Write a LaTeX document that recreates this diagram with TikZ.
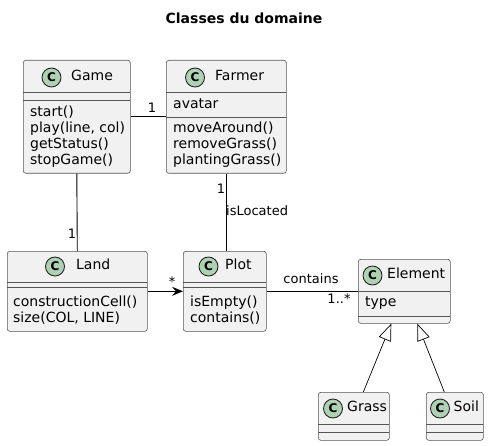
\documentclass[tikz,border=0pt]{standalone}
\usepackage{fontspec}
\setmainfont{DejaVu Sans}
\usetikzlibrary{arrows.meta,calc}
\definecolor{boxfill}{HTML}{F1F1F1}
\definecolor{boxline}{HTML}{181818}
\definecolor{divline}{HTML}{555555}
\definecolor{circfill}{HTML}{ADD1B2}
\tikzset{
  classbox/.style={draw=divline, fill=boxfill, line width=0.6pt, rounded corners=2.5pt, inner sep=0pt, anchor=north west},
  divider/.style={draw=divline, line width=0.5pt},
  cicon/.style={circle, draw=boxline, fill=circfill, line width=0.8pt, minimum size=19pt, inner sep=0pt, font=\fontsize{12}{12}\selectfont\bfseries},
  cname/.style={anchor=west, inner sep=0pt, font=\fontsize{14}{14}\selectfont, text height=10pt, text depth=3pt},
  member/.style={anchor=west, inner sep=0pt, font=\fontsize{14}{14}\selectfont, text height=10pt, text depth=3pt},
  lbl/.style={inner sep=0pt, font=\fontsize{13}{13}\selectfont, text height=9.5pt, text depth=3pt},
  link/.style={draw=black, line width=0.9pt},
}
\begin{document}
\begin{tikzpicture}[x=1pt,y=-1pt]
\useasboundingbox (0,0) rectangle (489,446);
\node[font=\fontsize{14}{14}\selectfont\bfseries] (title) at (244,18) {Classes du domaine};

% Game
\node[classbox, minimum width=107pt, minimum height=113pt] (game) at (23,60) {};
\draw[divider] (23,92) -- (130,92) (23,100) -- (130,100);
\node[cicon] (gamec) at (51.5,77.5) {C};
\node[cname] (gamen) at (71,77) {Game};
\node[member] (g1) at (30,113) {start()};
\node[member] (g2) at (30,129) {play(line, col)};
\node[member] (g3) at (30,145) {getStatus()};
\node[member] (g4) at (30,161) {stopGame()};

% Farmer
\node[classbox, minimum width=120pt, minimum height=113pt] (farmer) at (166,60) {};
\draw[divider] (166,92) -- (286,92) (166,117) -- (286,117);
\node[cicon] (farmerc) at (195,77.5) {C};
\node[cname] (farmern) at (215,77) {Farmer};
\node[member] (f0) at (173,105) {avatar};
\node[member] (f1) at (173,129) {moveAround()};
\node[member] (f2) at (173,145) {removeGrass()};
\node[member] (f3) at (173,161) {plantingGrass()};

% Land
\node[classbox, minimum width=140pt, minimum height=80pt] (land) at (7,251) {};
\draw[divider] (7,282) -- (147,282) (7,287) -- (147,287);
\node[cicon] (landc) at (55,266.5) {C};
\node[cname] (landn) at (76,266) {Land};
\node[member] (l1) at (13,303) {constructionCell()};
\node[member] (l2) at (13,319) {size(COL, LINE)};

% Plot
\node[classbox, minimum width=83pt, minimum height=80pt] (plot) at (183,251) {};
\draw[divider] (183,282) -- (266,282) (183,287) -- (266,287);
\node[cicon] (plotc) at (208.5,266.5) {C};
\node[cname] (plotn) at (225,266) {Plot};
\node[member] (p1) at (190,303) {isEmpty()};
\node[member] (p2) at (190,319) {contains()};

% Element
\node[classbox, minimum width=92pt, minimum height=64pt] (element) at (358,259) {};
\draw[divider] (358,291) -- (450,291) (358,316) -- (450,316);
\node[cicon] (elementc) at (372.5,275.5) {C};
\node[cname] (elementn) at (387,275) {Element};
\node[member] (e1) at (365,303) {type};

% Grass
\node[classbox, minimum width=71pt, minimum height=48pt] (grass) at (318,392) {};
\draw[divider] (318,424) -- (389,424) (318,432) -- (389,432);
\node[cicon] (grassc) at (333,408.5) {C};
\node[cname] (grassn) at (347,408) {Grass};

% Soil
\node[classbox, minimum width=57pt, minimum height=48pt] (soil) at (426,392) {};
\draw[divider] (426,424) -- (483,424) (426,432) -- (483,432);
\node[cicon] (soilc) at (440,408.5) {C};
\node[cname] (soiln) at (453.5,408) {Soil};

% Links
\draw[link] (game.east) -- (farmer.west);
\node[lbl] (lgf) at (152,109) {1};
\draw[link] (game.south) -- (land.north);
\node[lbl] (lgl) at (72,235) {1};
\draw[link] (farmer.south) -- (farmer.south |- plot.north);
\node[lbl] (lfp) at (221,190) {1};
\node[lbl, anchor=west] (lisloc) at (226,212) {isLocated};
\draw[link, -{Stealth[length=11pt, width=9pt, inset=4pt]}] (land.east) -- (plot.west);
\node[lbl] (lstar) at (172,283) {*};
\draw[link] (plot.east) -- (plot.east -| element.west);
\node[lbl] (lcont) at (311,280) {contains};
\node[lbl] (lmult) at (339,300) {1..*};
\draw[link, line width=0.7pt, -{Triangle[open, length=17pt, width=13pt, fill=white]}] ($(grass.north)+(9.5,0)$) -- ($(element.south)+(-13,0)$);
\draw[link, line width=0.7pt, -{Triangle[open, length=17pt, width=13pt, fill=white]}] ($(soil.north)+(-10.5,0)$) -- ($(element.south)+(13,0)$);
\end{tikzpicture}
\end{document}
